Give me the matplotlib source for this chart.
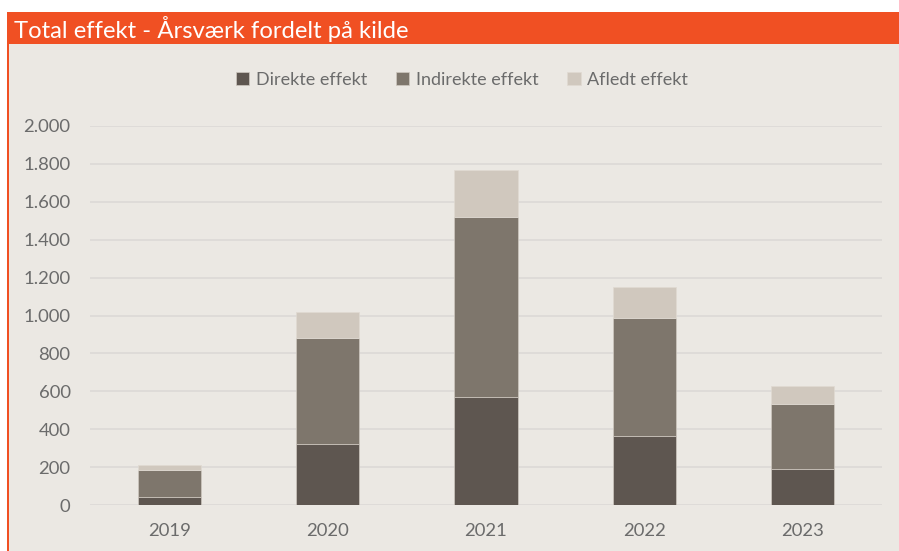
import numpy as np
import matplotlib.pyplot as plt
from matplotlib.patches import Rectangle
from matplotlib.ticker import FuncFormatter

years = ['2019', '2020', '2021', '2022', '2023']
direkte = [40, 320, 572, 365, 190]
indirekte = [143, 560, 948, 622, 345]
afledt = [28, 137, 246, 162, 91]
series_names = ['Direkte effekt', 'Indirekte effekt', 'Afledt effekt']

plt.rcParams['font.family'] = ['Lato', 'DejaVu Sans']
txt = '#6B6B6B'
bg = '#EBE8E3'
orange = '#F05023'
colors = ['#5E5650', '#7E766C', '#D0C8BE']

W, H = 899, 551
fig = plt.figure(figsize=(W / 100, H / 100), dpi=100)
fig.patch.set_facecolor('white')

# background, title band, left edge line
fig.patches.append(Rectangle((8 / W, 0), 1, 1 - 44 / H, transform=fig.transFigure,
                             facecolor=bg, edgecolor='none', zorder=-3))
fig.patches.append(Rectangle((8 / W, 1 - 44 / H), 1, 32 / H, transform=fig.transFigure,
                             facecolor=orange, edgecolor='none', zorder=-3))
fig.patches.append(Rectangle((7 / W, 0), 2 / W, 1 - 12 / H, transform=fig.transFigure,
                             facecolor=orange, edgecolor='none', zorder=-2))
fig.text(14 / W, 1 - 29 / H, 'Total effekt - Årsværk fordelt på kilde', color='white',
         fontsize=17.2, va='center', ha='left')

ax = fig.add_axes([90 / W, (H - 505) / H, (882 - 90) / W, (505 - 126) / H])
ax.set_facecolor('none')

x = np.arange(len(years))
d = np.array(direkte)
i = np.array(indirekte)
a = np.array(afledt)
bw = 0.4
ax.bar(x, d, bw, color=colors[0], edgecolor='#CFC8C0', linewidth=0.5, label=series_names[0], zorder=3)
ax.bar(x, i, bw, bottom=d, color=colors[1], edgecolor='#CFC8C0', linewidth=0.5, label=series_names[1], zorder=3)
ax.bar(x, a, bw, bottom=d + i, color=colors[2], edgecolor='#E0DAD2', linewidth=0.5, label=series_names[2], zorder=3)

ax.set_xlim(-0.5, 4.5)
ax.set_ylim(0, 2000)
ax.set_yticks(np.arange(0, 2001, 200))
ax.yaxis.set_major_formatter(FuncFormatter(lambda v, p: f'{int(v):,}'.replace(',', '.')))
ax.set_xticks(x)
ax.set_xticklabels(years)
ax.grid(True, axis='y', color='#DCD9D6', linewidth=1.2, zorder=0)
for s in ax.spines.values():
    s.set_visible(False)
ax.tick_params(length=0, labelsize=13.3, colors=txt)
ax.tick_params(axis='y', pad=14)
ax.tick_params(axis='x', pad=13)

leg = fig.legend(loc='center', bbox_to_anchor=(462 / W, 1 - 80 / H), ncol=3, frameon=False,
                 fontsize=13, handlelength=0.75, handleheight=0.75, columnspacing=1.6,
                 handletextpad=0.35)
for t in leg.get_texts():
    t.set_color(txt)

fig.savefig('out.png', dpi=100, facecolor=fig.get_facecolor())
